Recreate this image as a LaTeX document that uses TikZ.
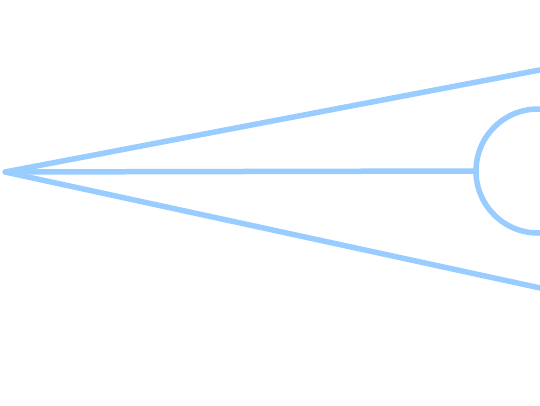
\documentclass[tikz,border=0pt]{standalone}
\definecolor{skyline}{HTML}{99CCFF}
\begin{document}
\begin{tikzpicture}[x=1pt,y=-1pt]
  \useasboundingbox (0,0) rectangle (540,405);
  \clip (0,0) rectangle (540,405);

  \coordinate (apex) at (5,172);
  \coordinate (up) at (545,69);
  \coordinate (down) at (545,289);
  \coordinate (ctr) at (538,171);
  \coordinate (joint) at (476,171);

  \draw[skyline, line width=5.5pt, line join=round] (up) -- (apex) -- (down);
  \draw[skyline, line width=5.5pt] (apex) -- (joint);
  \draw[skyline, line width=5.5pt] (ctr) circle [radius=62];
\end{tikzpicture}
\end{document}
